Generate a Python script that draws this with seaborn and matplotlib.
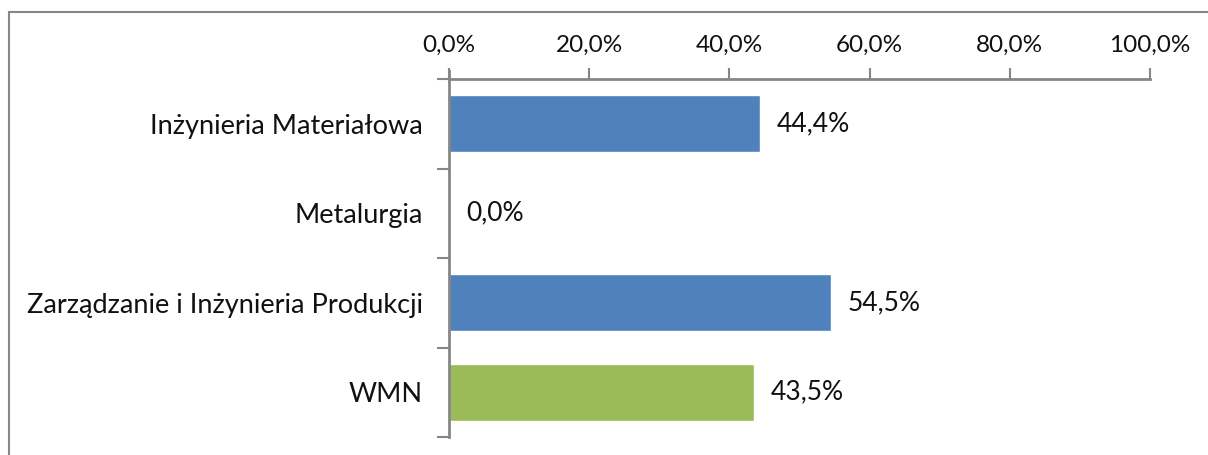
import matplotlib
matplotlib.use("Agg")
import matplotlib.pyplot as plt
import numpy as np
import pandas as pd
import seaborn as sns
from matplotlib.lines import Line2D
from matplotlib.ticker import FixedLocator, FuncFormatter

# chart data
categories = ["Inżynieria Materiałowa", "Metalurgia", "Zarządzanie i Inżynieria Produkcji", "WMN"]
values = [44.4, 0.0, 54.5, 43.5]
bar_colors = ["#4F81BD", "#4F81BD", "#4F81BD", "#9BBB59"]
x_ticks = [0, 20, 40, 60, 80, 100]

sns.set_theme(style="white")
plt.rcParams["font.family"] = ["Lato", "DejaVu Sans"]

df = pd.DataFrame({"kierunek": categories, "udzial": values})

fig = plt.figure(figsize=(12.08, 4.55), dpi=100)
ax = fig.add_axes([449 / 1208, 1 - 437 / 455, (1150 - 449) / 1208, (437 - 79) / 455])

sns.barplot(
    data=df, x="udzial", y="kierunek", hue="kierunek",
    palette=bar_colors, legend=False, width=0.64, saturation=1, ax=ax,
)

axis_gray = "#868686"
text_color = "#111111"
ax.set_xlim(0, 100)
ax.set_ylim(3.5, -0.5)
ax.xaxis.tick_top()
ax.xaxis.set_major_locator(FixedLocator(x_ticks))
ax.xaxis.set_major_formatter(FuncFormatter(lambda v, _: f"{v:.1f}%".replace(".", ",")))
ax.tick_params(axis="x", direction="out", length=8, width=1.5, color=axis_gray,
               labelsize=17.5, pad=9, labelcolor=text_color)
ax.set_xlabel("")
ax.set_ylabel("")

# category ticks sit on band boundaries
ax.yaxis.set_minor_locator(FixedLocator(np.arange(-0.5, 4, 1.0)))
ax.tick_params(axis="y", which="major", length=0, labelsize=19.5, pad=19, labelcolor=text_color)
ax.tick_params(axis="y", which="minor", direction="out", length=9, width=1.5, color=axis_gray, left=True)

for side in ["right", "bottom"]:
    ax.spines[side].set_visible(False)
for side in ["top", "left"]:
    ax.spines[side].set_color(axis_gray)
    ax.spines[side].set_linewidth(2)
ax.spines["left"].set_bounds(3.5, -0.5 - 8 / 89.5)

for i, v in enumerate(values):
    ax.text(v + 2.4, i, f"{v:.1f}%".replace(".", ","), va="center", ha="left",
            fontsize=19, color=text_color)

# outer chart frame
fig.add_artist(Line2D([9 / 1208, 9 / 1208], [0, 1 - 12 / 455], transform=fig.transFigure,
                      color=axis_gray, lw=1.5))
fig.add_artist(Line2D([9 / 1208, 1], [1 - 12 / 455, 1 - 12 / 455], transform=fig.transFigure,
                      color=axis_gray, lw=1.5))

fig.savefig("out.png", dpi=100)
